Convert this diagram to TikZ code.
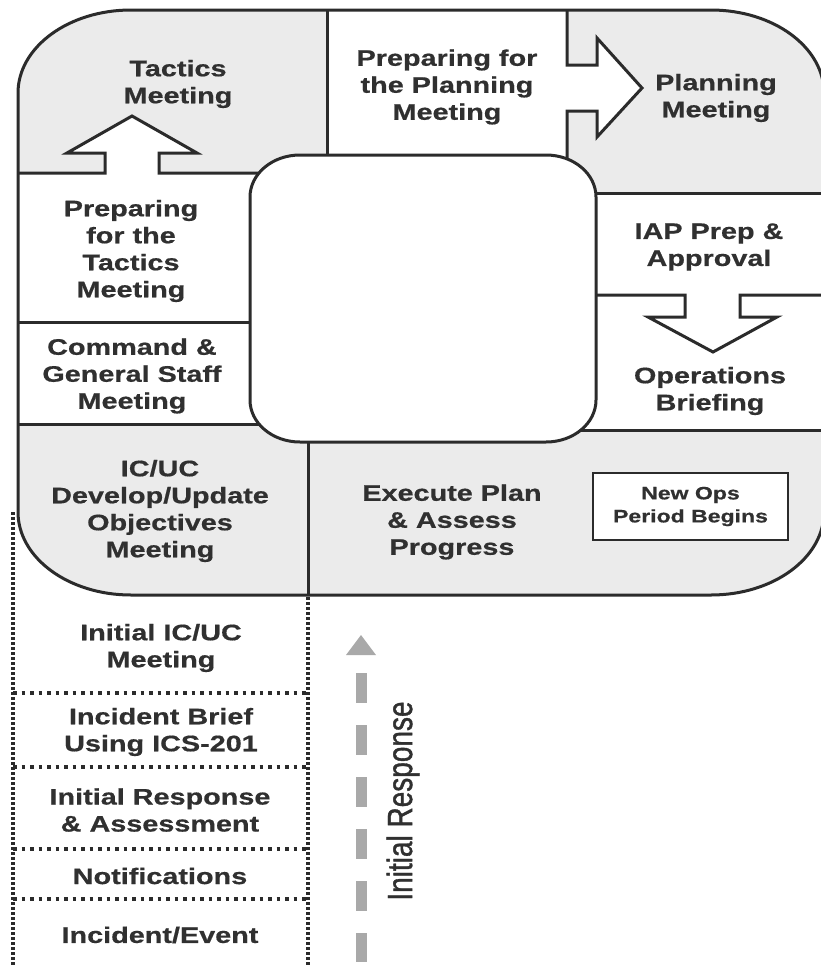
\documentclass[tikz,border=0pt]{standalone}
\usepackage{fontspec}
\newfontfamily\labfont{Liberation Sans}[FakeStretch=1.28, BoldFeatures={FakeBold=0.6}]
\newfontfamily\plainfont{Liberation Sans}[FakeBold=1.2]
\definecolor{ink}{HTML}{2B2B2B}
\definecolor{txt}{HTML}{303030}
\definecolor{cellgray}{HTML}{EBEBEB}
\definecolor{dashgray}{HTML}{A9A9A9}
\begin{document}
\begin{tikzpicture}[x=1pt,y=-1pt,
  edge/.style={draw=ink,line width=3pt,line join=miter},
  lab/.style={align=center,inner sep=0pt,text=txt,font=\labfont\bfseries\fontsize{22.5}{27}\selectfont},
  smalllab/.style={align=center,inner sep=0pt,text=txt,font=\labfont\bfseries\fontsize{18}{23}\selectfont},
  dotv/.style={draw=ink,line width=3.2pt,dash pattern=on 2.5pt off 2.5pt},
  doth/.style={draw=ink,line width=3.2pt,dash pattern=on 3.5pt off 5pt},
]
\useasboundingbox (0,0) rectangle (820,967);
\fill[white] (0,0) rectangle (820,967);

% outer shaded shape
\fill[cellgray] (131,10) -- (711,10) arc[start angle=270,end angle=360,x radius=113,y radius=83]
  -- (824,512) arc[start angle=0,end angle=90,x radius=113,y radius=83]
  -- (131,595) arc[start angle=90,end angle=180,x radius=113,y radius=83]
  -- (18,93) arc[start angle=180,end angle=270,x radius=113,y radius=83] -- cycle;

% white cells
\begin{scope}
\clip (131,10) -- (711,10) arc[start angle=270,end angle=360,x radius=113,y radius=83]
  -- (824,512) arc[start angle=0,end angle=90,x radius=113,y radius=83]
  -- (131,595) arc[start angle=90,end angle=180,x radius=113,y radius=83]
  -- (18,93) arc[start angle=180,end angle=270,x radius=113,y radius=83] -- cycle;
\fill[white] (327,10) rectangle (567,200);
\fill[white] (18,173) rectangle (300,322);
\fill[white] (18,322) rectangle (300,424);
\fill[white] (567,193) rectangle (824,295);
\fill[white] (567,295) rectangle (824,430);
\end{scope}

% inner rounded rectangle
\fill[white] (300,155) -- (546,155) arc[start angle=270,end angle=360,x radius=50,y radius=42]
  -- (596,400) arc[start angle=0,end angle=90,x radius=50,y radius=42]
  -- (300,442) arc[start angle=90,end angle=180,x radius=50,y radius=42]
  -- (250,197) arc[start angle=180,end angle=270,x radius=50,y radius=42] -- cycle;

% block arrows (fills)
\fill[white] (105,173) -- (105,153) -- (67,153) -- (132,116) -- (197,153) -- (159,153) -- (159,173) -- cycle;
\fill[white] (567,65) -- (597,65) -- (597,38) -- (642,88) -- (597,137) -- (597,111) -- (567,111) -- cycle;
\fill[white] (685,295) -- (685,317) -- (648,317) -- (713,352) -- (777,317) -- (740,317) -- (740,295) -- cycle;

% dividing lines
\draw[edge] (327,10) -- (327,155);
\draw[edge] (567,10) -- (567,65) -- (597,65) -- (597,38) -- (642,88) -- (597,137) -- (597,111) -- (567,111) -- (567,159);
\draw[edge] (596,193) -- (824,193);
\draw[edge] (596,295) -- (685,295) -- (685,317) -- (648,317) -- (713,352) -- (777,317) -- (740,317) -- (740,295) -- (824,295);
\draw[edge] (581,430) -- (824,430);
\draw[edge] (18,173) -- (105,173) -- (105,153) -- (67,153) -- (132,116) -- (197,153) -- (159,153) -- (159,173) -- (259,173);
\draw[edge] (18,322) -- (250,322);
\draw[edge] (18,424) -- (259,424);
\draw[edge] (308,442) -- (308,595);

% outlines
\draw[edge] (131,10) -- (711,10) arc[start angle=270,end angle=360,x radius=113,y radius=83]
  -- (824,512) arc[start angle=0,end angle=90,x radius=113,y radius=83]
  -- (131,595) arc[start angle=90,end angle=180,x radius=113,y radius=83]
  -- (18,93) arc[start angle=180,end angle=270,x radius=113,y radius=83] -- cycle;
\draw[edge] (300,155) -- (546,155) arc[start angle=270,end angle=360,x radius=50,y radius=42]
  -- (596,400) arc[start angle=0,end angle=90,x radius=50,y radius=42]
  -- (300,442) arc[start angle=90,end angle=180,x radius=50,y radius=42]
  -- (250,197) arc[start angle=180,end angle=270,x radius=50,y radius=42] -- cycle;

% dotted initial-response column
\draw[dotv] (13,512) -- (13,967);
\draw[dotv] (308,597) -- (308,967);
\draw[doth] (13,693) -- (308,693);
\draw[doth] (13,767) -- (308,767);
\draw[doth] (13,849) -- (308,849);
\draw[doth] (13,899) -- (308,899);

% labels
\node[lab] (tactics) at (178,84) {Tactics\\Meeting};
\node[lab] (prepplan) at (447,87) {Preparing for\\the Planning\\Meeting};
\node[lab] (planning) at (716,98) {Planning\\Meeting};
\node[lab] (preptac) at (131,251) {Preparing\\for the\\Tactics\\Meeting};
\node[lab] (iap) at (709,247) {IAP Prep \&\\Approval};
\node[lab] (ops) at (710,391) {Operations\\Briefing};
\node[lab] (cgs) at (132,376) {Command \&\\General Staff\\Meeting};
\node[lab] (icuc) at (160,511) {IC/UC\\Develop/Update\\Objectives\\Meeting};
\node[lab] (exec) at (452,522) {Execute Plan\\\& Assess\\Progress};
\node[smalllab,draw=ink,line width=2pt,fill=white,minimum width=195pt,minimum height=67pt] (newops) at (690.5,506.5) {New Ops\\Period Begins};

\node[lab] (initmeet) at (161,648) {Initial IC/UC\\Meeting};
\node[lab] (brief) at (161,732) {Incident Brief\\Using ICS-201};
\node[lab] (initresp) at (160,810) {Initial Response\\\& Assessment};
\node[lab] (notif) at (160,876) {Notifications};
\node[lab] (incident) at (160,935) {Incident/Event};

% initial response arrow
\coordinate (irstart) at (361,673);
\coordinate (irend) at (361,962);
\draw[dashgray,line width=11pt,dash pattern=on 30pt off 22pt] (irstart) -- (irend);
\fill[dashgray] (346,655) -- (376,655) -- (361,635) -- cycle;
\node[inner sep=0pt,text=txt,rotate=90,font=\plainfont\fontsize{28}{28}\selectfont] (irlabel) at (403,801) {\scalebox{1}[1.25]{Initial Response}};
\end{tikzpicture}
\end{document}
